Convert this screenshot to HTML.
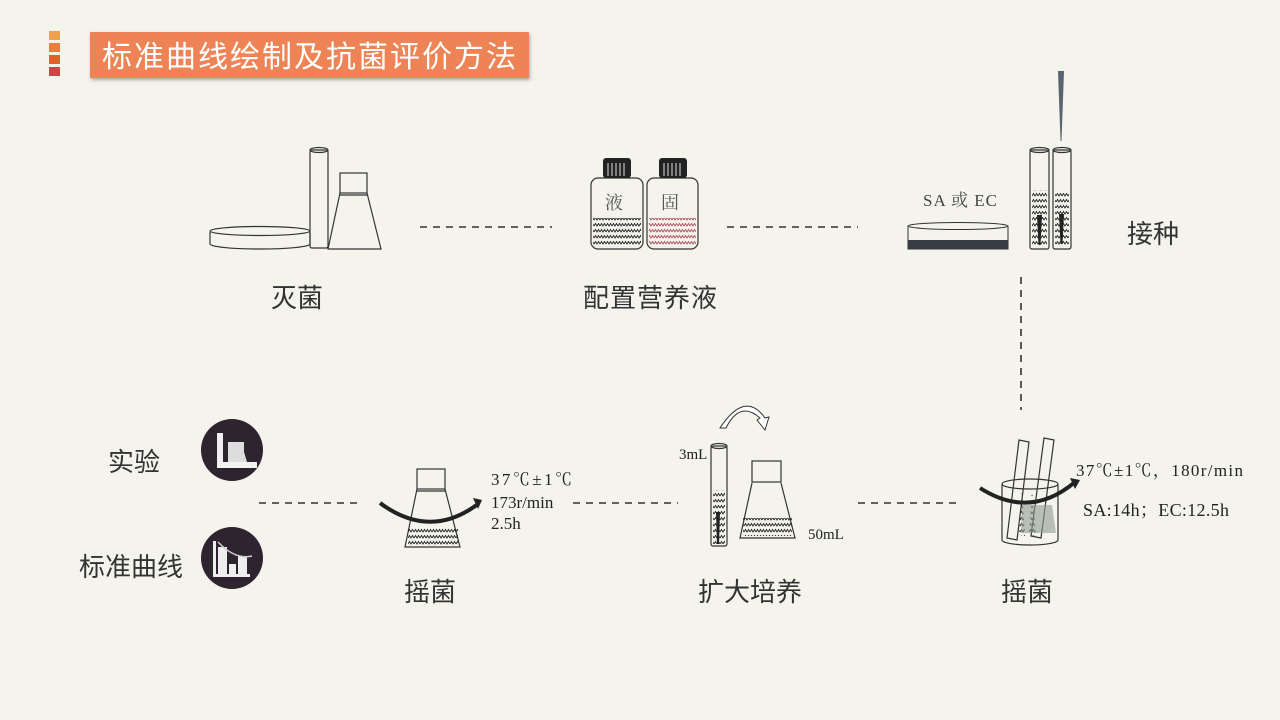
<!DOCTYPE html>
<html><head><meta charset="utf-8"><style>
html,body{margin:0;padding:0;background:#f4f3ec;}
svg{display:block}
.cn{font-family:"Liberation Sans","Noto Sans CJK SC",sans-serif;fill:#333;}
.sr{font-family:"Liberation Serif","Noto Serif CJK SC",serif;fill:#222;}
</style></head><body>
<svg width="1280" height="720" viewBox="0 0 1280 720" xmlns="http://www.w3.org/2000/svg">
<defs>
<pattern id="wv" width="6" height="6" patternUnits="userSpaceOnUse">
<path d="M0 4 L1.5 1.5 L3 4 L4.5 1.5 L6 4" fill="none" stroke="#222" stroke-width="0.9"/>
</pattern>
<pattern id="wvr" width="6" height="6" patternUnits="userSpaceOnUse">
<path d="M0 4 L1.5 1.5 L3 4 L4.5 1.5 L6 4" fill="none" stroke="#b05060" stroke-width="0.9"/>
</pattern>
<filter id="sh"><feDropShadow dx="1" dy="2" stdDeviation="1.5" flood-opacity="0.3"/></filter>
</defs>
<rect width="1280" height="720" fill="#f4f3ec"/>
<!-- title -->
<rect x="49" y="31" width="11" height="9" fill="#eea04f"/>
<rect x="49" y="43" width="11" height="9" fill="#ee7d3d"/>
<rect x="49" y="55" width="11" height="9" fill="#e2602c"/>
<rect x="49" y="67" width="11" height="9" fill="#d84048"/>
<rect x="90" y="32" width="439" height="46" fill="#ee8454" filter="url(#sh)"/>
<text x="102" y="67" class="cn" style="fill:#fff" font-size="30" textLength="414">标准曲线绘制及抗菌评价方法</text>

<g fill="none" stroke="#333" stroke-width="1.2">
<!-- sterilize -->
<path d="M210 232 V244 A50 5 0 0 0 310 244 V232"/>
<ellipse cx="260" cy="231" rx="50" ry="4.5"/>
<rect x="310" y="150" width="18" height="98" rx="2"/>
<ellipse cx="319" cy="150" rx="9" ry="2.5"/>
<rect x="340" y="173" width="27" height="20"/>
<line x1="340" y1="195" x2="367" y2="195"/>
<path d="M340 193 L328 249 H381 L367 193"/>
<!-- bottles -->
<rect x="591" y="178" width="52" height="71" rx="7"/>
<rect x="647" y="178" width="51" height="71" rx="7"/>
</g>
<rect x="603" y="158" width="28" height="20" rx="3" fill="#222"/>
<rect x="659" y="158" width="28" height="20" rx="3" fill="#222"/>
<g stroke="#ddd" stroke-width="1"><path d="M608 163V176M612 163V176M616 163V176M620 163V176M624 163V176M664 163V176M668 163V176M672 163V176M676 163V176M680 163V176"/></g>
<rect x="593" y="218" width="48" height="29" fill="url(#wv)"/>
<rect x="649" y="218" width="47" height="29" fill="url(#wvr)"/>
<text x="605" y="209" class="sr" font-size="18" style="fill:#555">液</text>
<text x="661" y="209" class="sr" font-size="18" style="fill:#555">固</text>

<!-- inoculate -->
<text x="923" y="206" class="sr" font-size="17" style="fill:#444" textLength="74">SA 或 EC</text>
<ellipse cx="958" cy="226" rx="50" ry="3.5" fill="none" stroke="#333"/>
<path d="M908 226 V249 H1008 V226" fill="none" stroke="#333"/>
<rect x="908" y="240" width="100" height="9" fill="#363c46"/>
<g fill="none" stroke="#333" stroke-width="1.2">
<rect x="1030" y="150" width="19" height="99" rx="2"/>
<rect x="1053" y="150" width="18" height="99" rx="2"/>
<ellipse cx="1039.5" cy="150" rx="9.5" ry="2.5"/>
<ellipse cx="1062" cy="150" rx="9" ry="2.5"/>
</g>
<rect x="1032" y="190" width="15" height="57" fill="url(#wv)"/>
<rect x="1055" y="193" width="14" height="54" fill="url(#wv)"/>
<path d="M1037 215 h5 l-1.5 30 h-2z M1059 214 h5 l-1.5 30 h-2z" fill="#222"/>
<path d="M1058 71 h6 l-2.5 70 h-1z" fill="#5a6470"/>

<!-- dashed connectors -->
<g stroke="#333" stroke-width="1.6" stroke-dasharray="7 6" fill="none">
<line x1="420" y1="227" x2="552" y2="227"/>
<line x1="727" y1="227" x2="858" y2="227"/>
<line x1="1021" y1="277" x2="1021" y2="410"/>
<line x1="858" y1="503" x2="962" y2="503"/>
<line x1="573" y1="503" x2="678" y2="503"/>
<line x1="259" y1="503" x2="362" y2="503"/>
</g>

<!-- labels -->
<text x="271" y="307" class="cn" font-size="26">灭菌</text>
<text x="583" y="307" class="cn" font-size="26" textLength="134">配置营养液</text>
<text x="1127" y="243" class="cn" font-size="26">接种</text>
<text x="1001" y="601" class="cn" font-size="26">摇菌</text>
<text x="698" y="601" class="cn" font-size="26">扩大培养</text>
<text x="404" y="601" class="cn" font-size="26">摇菌</text>
<text x="108" y="471" class="cn" font-size="26">实验</text>
<text x="79" y="576" class="cn" font-size="26">标准曲线</text>

<!-- shake beaker right -->
<g fill="none" stroke="#333" stroke-width="1.2">
<path d="M1019 440 l10 2 l-12 98 l-10 -2z"/>
<path d="M1044 438 l10 2 l-13 98 l-10 -2z"/>
<path d="M1002 485 V540 A28 5 0 0 0 1058 540 V485"/>
<ellipse cx="1030" cy="484" rx="28" ry="5"/>
</g>
<path d="M1022 490 l-3 45 l6 1z M1032 490 l-3 45 l7 1z" fill="url(#wv)"/>
<path d="M1022 505 h30 l4 28 h-35z" fill="#8f9c90" opacity="0.6"/>
<path d="M980 488 Q1030 520 1075 482" fill="none" stroke="#222" stroke-width="4"/>
<path d="M1070 478 l10 2 l-5 9z" fill="#222"/>
<text x="1076" y="476" class="sr" font-size="17" textLength="167">37℃±1℃，180r/min</text>
<text x="1083" y="516" class="sr" font-size="18" textLength="146">SA:14h；EC:12.5h</text>

<!-- expand culture -->
<g fill="none" stroke="#333" stroke-width="1.2">
<rect x="711" y="446" width="16" height="100" rx="2"/>
<ellipse cx="719" cy="446" rx="8" ry="2.5"/>
<rect x="752" y="461" width="29" height="21"/>
<path d="M752 483 L740 538 H795 L781 483"/>
</g>
<rect x="713" y="490" width="12" height="54" fill="url(#wv)"/>
<path d="M716 512 h4 l-1 32 h-2z" fill="#222"/>
<rect x="743" y="518" width="49" height="18" fill="url(#wv)"/>
<path d="M726 428 Q740 400 760 418 l-3 2 l8 10 l4 -13 l-4 1 Q745 390 720 428z" fill="#fff" stroke="#333"/>
<text x="679" y="459" class="sr" font-size="15">3mL</text>
<text x="808" y="539" class="sr" font-size="15">50mL</text>

<!-- shake flask left -->
<g fill="none" stroke="#333" stroke-width="1.2">
<rect x="417" y="469" width="28" height="20"/>
<line x1="417" y1="491" x2="445" y2="491"/>
<path d="M417 489 L405 547 H460 L445 489"/>
</g>
<rect x="408" y="527" width="50" height="18" fill="url(#wv)"/>
<path d="M380 503 Q430 540 478 504" fill="none" stroke="#222" stroke-width="4"/>
<path d="M473 498 l9 2 l-4 9z" fill="#222"/>
<text x="491" y="485" class="sr" font-size="17" textLength="81">37℃±1℃</text>
<text x="491" y="508" class="sr" font-size="17">173r/min</text>
<text x="491" y="529" class="sr" font-size="17">2.5h</text>

<!-- icons -->
<circle cx="232" cy="450" r="31" fill="#2e2430"/>
<rect x="217" y="433" width="6" height="30" fill="#eee"/>
<path d="M228 442 h16 v10 l3 10 h-19z" fill="#ddd"/>
<rect x="217" y="462" width="40" height="6" fill="#f3f3f3"/>
<circle cx="232" cy="558" r="31" fill="#2e2430"/>
<rect x="213" y="541" width="3" height="35" fill="#eee"/>
<rect x="218" y="547" width="9" height="28" fill="#eee"/>
<rect x="229" y="564" width="7" height="11" fill="#eee"/>
<rect x="238" y="556" width="9" height="19" fill="#eee"/>
<rect x="213" y="574" width="37" height="3" fill="#eee"/>
<path d="M218 542 Q235 560 252 556" fill="none" stroke="#ccc" stroke-width="1.5"/>
</svg>
</body></html>
